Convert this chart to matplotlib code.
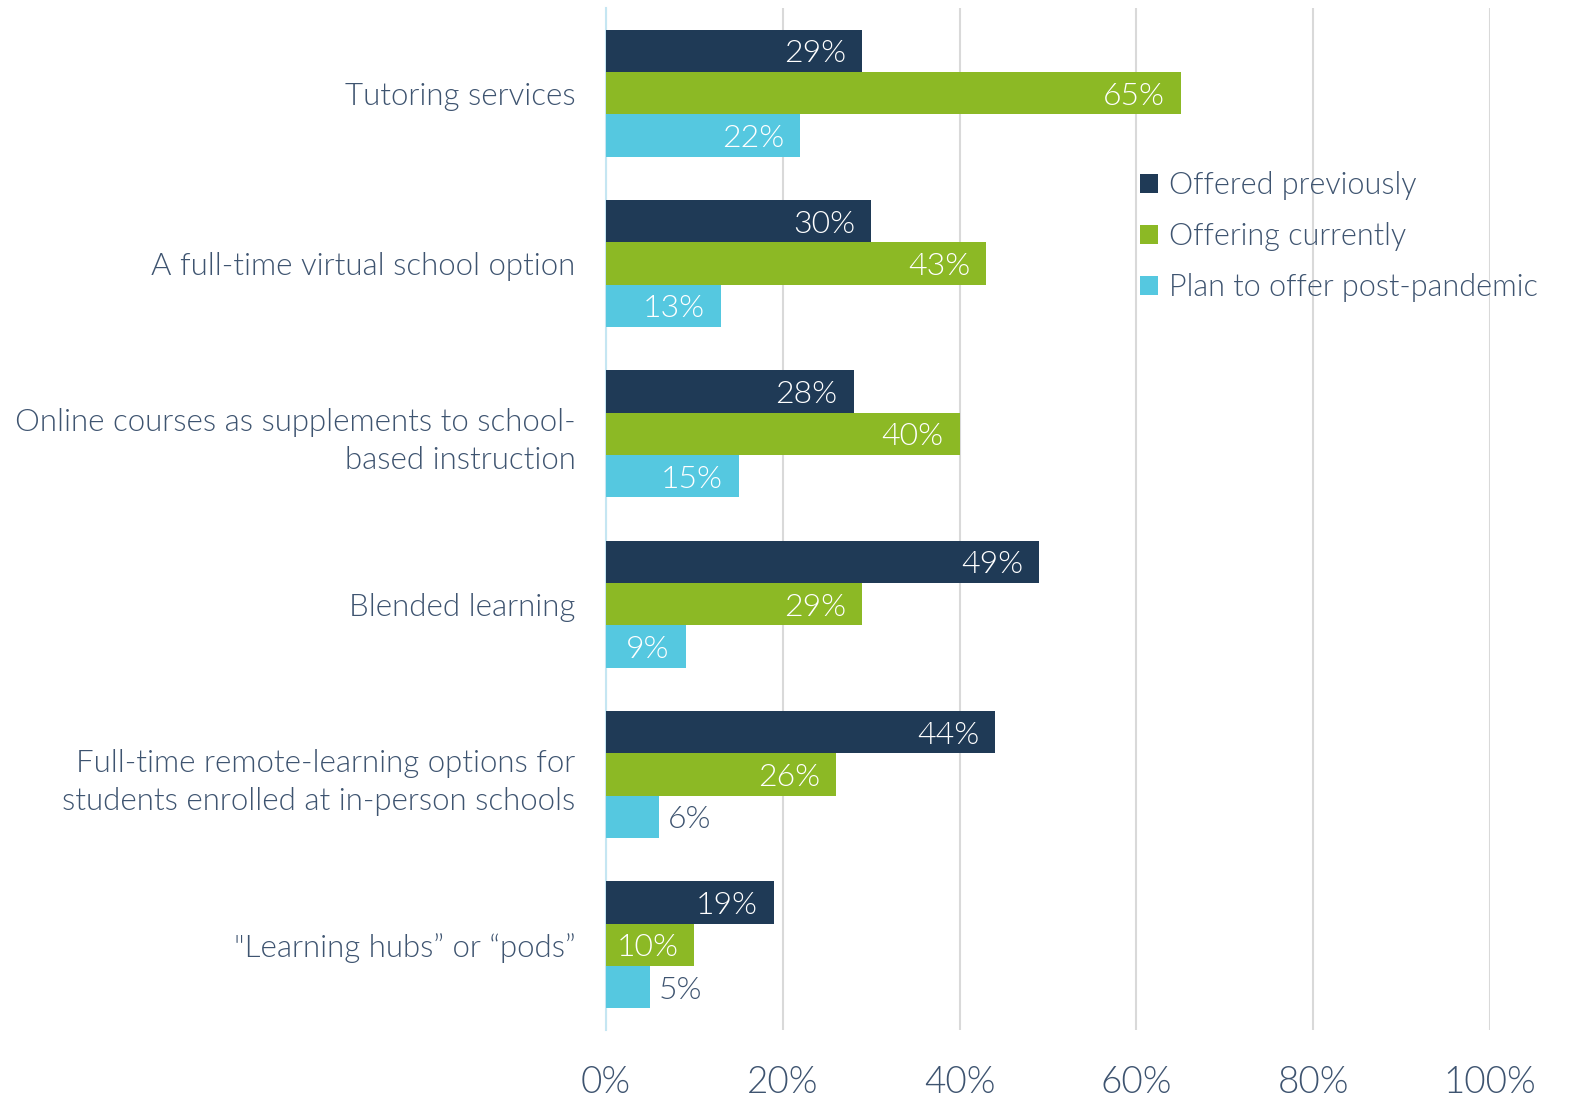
import numpy as np
import matplotlib.pyplot as plt

categories = ["Tutoring services",
              "A full-time virtual school option",
              "Online courses as supplements to school-\nbased instruction",
              "Blended learning",
              "Full-time remote-learning options for\nstudents enrolled at in-person schools",
              "\"Learning hubs\u201d or \u201cpods\u201d"]
previously = [29, 30, 28, 49, 44, 19]
currently = [65, 43, 40, 29, 26, 10]
post_pandemic = [22, 13, 15, 9, 6, 5]
series_names = ["Offered previously", "Offering currently", "Plan to offer post-pandemic"]
colors = ["#1f3a56", "#8cb925", "#55c8e0"]
text_color = "#3e5470"

plt.rcParams['font.family'] = ['Lato', 'DejaVu Sans']
W = 300

fig = plt.figure(figsize=(15.69, 11.01), dpi=100)
ax = fig.add_axes([606 / 1569, 1 - 1030 / 1101, (1490 - 606) / 1569, (1030 - 8) / 1101])

y = np.arange(len(categories))
h = 0.248
for i, (vals, name, c) in enumerate(zip([previously, currently, post_pandemic], series_names, colors)):
    pos = y + (i - 1) * h
    ax.barh(pos, vals, height=h, color=c, label=name, zorder=3)
    for p, v in zip(pos, vals):
        if v >= 9:
            ax.text(v - 1.8, p, f"{v}%", ha='right', va='center_baseline', color='white',
                    fontsize=23, fontweight=W, zorder=4)
        else:
            ax.text(v + 1.0, p, f"{v}%", ha='left', va='center_baseline', color=text_color,
                    fontsize=23, fontweight=W, zorder=4)

ax.set_xlim(0, 100)
ax.set_ylim(len(categories) - 0.5, -0.5)
ax.set_xticks(range(0, 101, 20))
ax.set_xticklabels([f"{t}%" for t in range(0, 101, 20)], fontsize=26.5, fontweight=W, color=text_color)
ax.set_yticks(y)
ax.set_yticklabels(categories, fontsize=22.5, fontweight=W, color=text_color, linespacing=1.42)
ax.tick_params(axis='both', length=0)
ax.tick_params(axis='x', pad=26)
ax.tick_params(axis='y', pad=22)
ax.grid(axis='x', color='#d9d9d9', linewidth=1.5, zorder=0)
for s in ['top', 'right', 'bottom']:
    ax.spines[s].set_visible(False)
ax.spines['left'].set_color('#c5e6f2')
ax.spines['left'].set_linewidth(1.5)

leg = ax.legend(loc='upper left', bbox_to_anchor=(0.59, 0.852), frameon=False,
                handlelength=0.6, handleheight=0.6, handletextpad=0.35, labelspacing=0.72,
                borderaxespad=0, prop={'weight': W, 'size': 22})
for t in leg.get_texts():
    t.set_color(text_color)

fig.savefig("out.png", dpi=100)
